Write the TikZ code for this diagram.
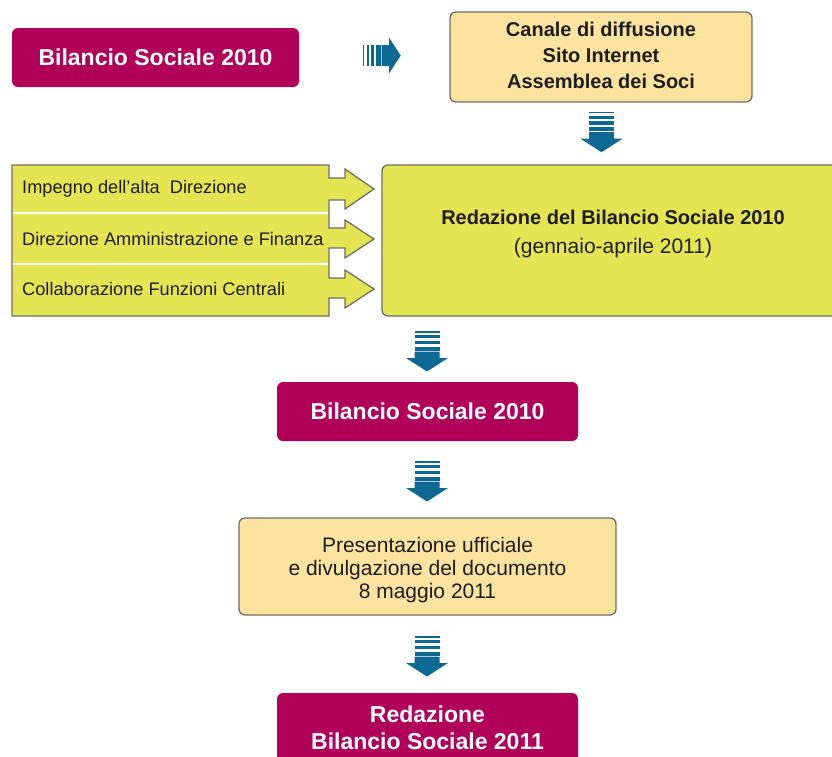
\documentclass[tikz,border=0pt]{standalone}
\usepackage{fontspec}
\setmainfont{Liberation Sans}
\definecolor{mag}{HTML}{B0005A}
\definecolor{arrowblue}{HTML}{0E6894}
\definecolor{lightyel}{HTML}{FDE3A0}
\definecolor{ygreen}{HTML}{E5E553}
\definecolor{bordergray}{HTML}{6E6E64}
\definecolor{textdark}{HTML}{1E1E1E}
\tikzset{
  magbox/.style={fill=mag, rounded corners=6pt, text=white, inner sep=0pt, align=center,
    font=\fontsize{23}{27}\selectfont\bfseries},
  yelbox/.style={fill=lightyel, draw=bordergray, line width=1.3pt, rounded corners=6pt, inner sep=0pt},
  boldtxt/.style={text=textdark, align=center, inner sep=0pt, font=\fontsize{20}{26}\selectfont\bfseries},
  regtxt/.style={text=textdark, align=center, inner sep=0pt, font=\fontsize{21}{23}\selectfont},
  listtxt/.style={text=textdark, anchor=west, inner sep=0pt, font=\fontsize{18.2}{20}\selectfont},
  downarrow/.pic={
    \fill[arrowblue] (-12.5,0) rectangle (12.5,1.5);
    \fill[arrowblue] (-12.5,4) rectangle (12.5,7);
    \fill[arrowblue] (-12.5,9.5) rectangle (12.5,13);
    \fill[arrowblue] (-12.5,15.5) rectangle (12.5,19.5);
    \fill[arrowblue] (-12.5,20.5) -- (12.5,20.5) -- (12.5,27) -- (21,27) -- (0,40.5)
      -- (-21,27) -- (-12.5,27) -- cycle;
  },
  rightarrow/.pic={
    \fill[arrowblue] (0,-10.3) rectangle (1.3,10.3);
    \fill[arrowblue] (4,-10.3) rectangle (6,10.3);
    \fill[arrowblue] (8,-10.3) rectangle (11.3,10.3);
    \fill[arrowblue] (13.3,-10.3) rectangle (18,10.3);
    \fill[arrowblue] (19,-10.3) -- (26.3,-10.3) -- (26.3,-18) -- (38,0) -- (26.3,18)
      -- (26.3,10.3) -- (19,10.3) -- cycle;
  }
}
\begin{document}
\begin{tikzpicture}[x=1pt,y=-1pt]
\useasboundingbox (0,0) rectangle (832,756);
\clip (0,0) rectangle (832,756);

% top row
\node[magbox, minimum width=287pt, minimum height=59pt] (b1) at (155.5,57.5) {Bilancio Sociale 2010};
\pic at (362.7,55.5) {rightarrow};
\node[yelbox, minimum width=302pt, minimum height=90pt] (canale) at (601,57) {};
\node[boldtxt] (canaletxt) at (601,55) {Canale di diffusione\\Sito Internet\\Assemblea dei Soci};
\pic at (601.5,111.7) {downarrow};

% big box
\draw[fill=ygreen, draw=bordergray, line width=1.3pt, rounded corners=6pt]
  (850,165) -- (382,165) -- (382,316) -- (850,316) -- cycle;
\node[boldtxt] (redtxt) at (613,217) {Redazione del Bilancio Sociale 2010};
\node[regtxt] (gentxt) at (613,248) {(gennaio-aprile 2011)};

% left stack with arrows
\draw[fill=ygreen, draw=bordergray, line width=1.3pt, line join=miter]
  (12,165) -- (329,165) -- (329,178) -- (345,178) -- (345,169) -- (374,189) -- (345,209) -- (345,200) -- (329,200)
  -- (329,228) -- (345,228) -- (345,220) -- (374,239) -- (345,258) -- (345,248) -- (329,248)
  -- (329,278) -- (345,278) -- (345,270) -- (374,289) -- (345,308) -- (345,298) -- (329,298)
  -- (329,316) -- (12,316) -- cycle;
\draw[white, line width=2pt] (12.7,213) -- (328.3,213);
\draw[white, line width=2pt] (12.7,264) -- (328.3,264);
\node[listtxt] (l1) at (22,189) {Impegno dell’alta\ \ Direzione};
\node[listtxt] (l2) at (22,239) {Direzione Amministrazione e Finanza};
\node[listtxt] (l3) at (22,289) {Collaborazione Funzioni Centrali};

% middle column
\pic at (427,331) {downarrow};
\node[magbox, minimum width=301pt, minimum height=59pt] (b2) at (427.5,411.5) {Bilancio Sociale 2010};
\pic at (427,461) {downarrow};
\node[yelbox, minimum width=377pt, minimum height=97pt] (pres) at (427.5,566.5) {};
\node[regtxt] (prestxt) at (427.5,570) {Presentazione ufficiale\\e divulgazione del documento\\8 maggio 2011};
\pic at (427,636) {downarrow};
\fill[mag, rounded corners=6pt] (277,693) rectangle (578,780);
\node[magbox, fill=none] (b3txt) at (427.5,727.5) {Redazione\\Bilancio Sociale 2011};
\end{tikzpicture}
\end{document}
